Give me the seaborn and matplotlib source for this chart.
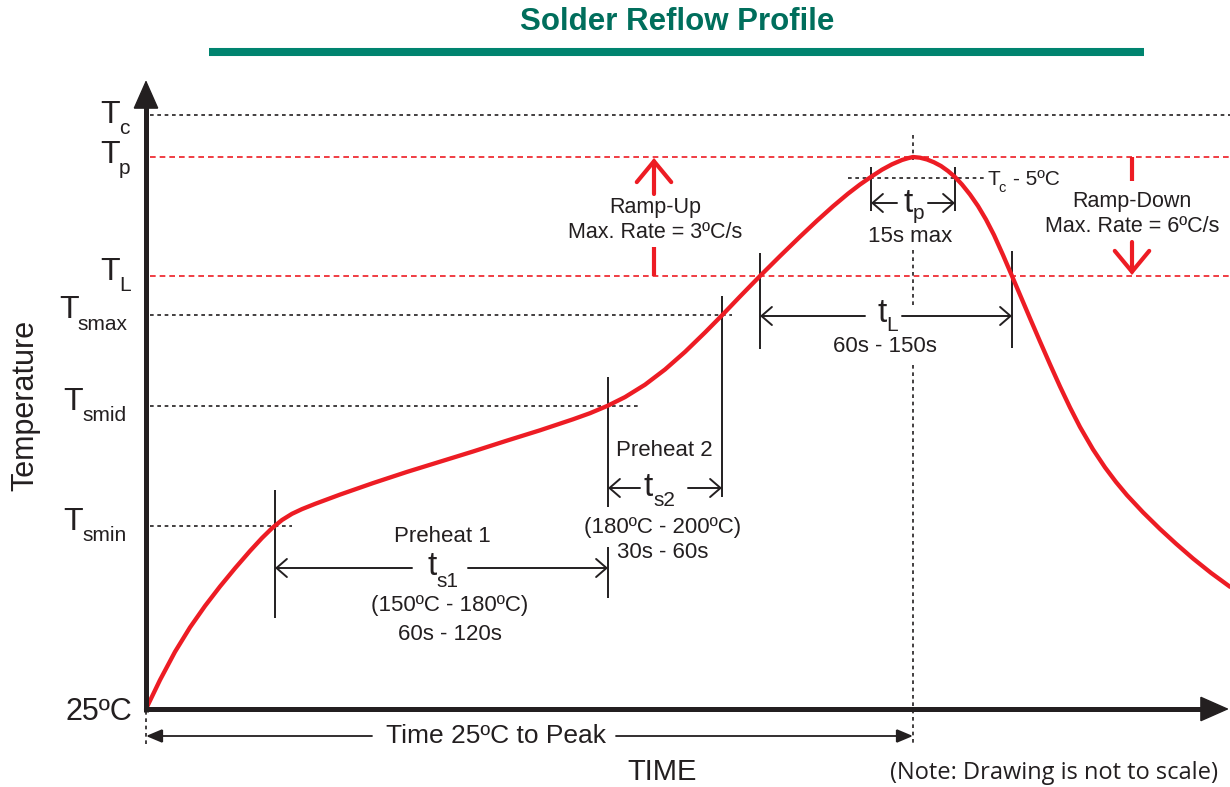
import matplotlib
matplotlib.use("Agg")
import matplotlib.pyplot as plt
import seaborn as sns
import pandas as pd

# ---------------- data (drawing units: time after start, temperature above 25ºC) -------------
level_names = ["25ºC", "smin", "smid", "smax", "L", "p", "c"]
level_temps = [0, 183, 303, 394, 433, 552, 594]

curve_time = [0, 14, 29, 44, 59, 74, 89, 104, 116, 126,
              136, 146, 156, 169, 194, 227, 261, 294, 327, 361,
              394, 427, 444, 462, 479, 499, 519, 539, 559, 576,
              594, 614, 634, 654, 671, 687, 702, 714, 726, 736,
              746, 756, 762, 767, 774, 781, 788, 795, 802, 809,
              816, 824, 832, 840, 848, 857, 866, 874, 884, 894,
              904, 914, 924, 934, 947, 959, 970, 981, 997, 1014,
              1030, 1047, 1065, 1084]
curve_temp = [0, 29, 57.2, 81.6, 103, 122.5, 140.7, 158, 171, 180.8,
              189, 195.2, 199.9, 205.1, 214.4, 225.9, 237.1, 247.3, 257.5, 268.4,
              278.7, 289.7, 295.8, 303.4, 311.9, 324.3, 339.5, 357.1, 376.5, 393.7,
              412.5, 433, 452.9, 472.3, 488.3, 502.7, 515.3, 524.5, 532.8, 539.3,
              544.7, 549, 550.8, 552, 551.3, 549.5, 546.7, 543, 538, 532,
              524.5, 514.5, 503, 489.5, 474, 454, 433, 414.2, 390.7, 367.5,
              344.7, 322.5, 301.5, 282, 259.6, 241.6, 227, 213.8, 196.7, 180,
              165.3, 150.5, 136.1, 122.2]

phase_names = ["s1", "s2", "L", "p"]
phase_start = [129, 462, 614, 725]
phase_end = [462, 576, 866, 809]
peak_time = 767
tc5_temp = 531

RED = "#ED1C24"
INK = "#231F20"
TEAL = "#00846F"
TITLE_C = "#006E5C"

sns.set_theme(style="white")
plt.rcParams["font.family"] = ["Liberation Sans", "DejaVu Sans"]

fig = plt.figure(figsize=(12.3, 7.87), dpi=100)
ax = fig.add_axes([0, 0, 1, 1])
X0, Y0 = 146, 709          # pixel position of the origin
ax.set_xlim(-X0, 1230 - X0)
ax.set_ylim(Y0 - 787, Y0)
ax.axis("off")


def X(px):
    return px - X0


def Y(py):
    return Y0 - py


def txt(px, py, s, size, ha="center", va="center", **kw):
    kw.setdefault("color", INK)
    ax.text(X(px), Y(py), s, fontsize=size, ha=ha, va=va, **kw)


def arrow(p0, p1, style, lw, color, ms, z=4):
    ax.annotate("", xy=(X(p1[0]), Y(p1[1])), xytext=(X(p0[0]), Y(p0[1])),
                arrowprops=dict(arrowstyle=style, lw=lw, color=color, shrinkA=0, shrinkB=0,
                                mutation_scale=ms, joinstyle="miter"), zorder=z)


black_dot = (0, (2.2, 2.2))
red_dot = (0, (3.4, 2.4))

# ---------------- level lines ----------------
level_xmax = {"25ºC": None, "smin": 292, "smid": 640, "smax": 732, "L": 1230, "p": 1230, "c": 1230}
for name, tv in zip(level_names, level_temps):
    xm = level_xmax[name]
    if xm is None:
        continue
    col = RED if name in ("L", "p") else INK
    ls = red_dot if name in ("L", "p") else black_dot
    ax.plot([X(150), X(xm)], [tv, tv], color=col, lw=1.2, ls=ls)

# T_c - 5ºC line
ax.plot([X(848), X(985)], [tc5_temp, tc5_temp], color=INK, lw=1.2, ls=black_dot)

# peak vertical dotted
for a, b in [(135, 160), (250, 305), (365, 745)]:
    ax.plot([peak_time, peak_time], [Y(a), Y(b)], color=INK, lw=1.2, ls=black_dot)
ax.plot([0, 0], [Y(711), Y(745)], color=INK, lw=1.2, ls=black_dot)

# ---------------- curve ----------------
df = pd.DataFrame({"time": curve_time, "temp": curve_temp})
sns.lineplot(data=df, x="time", y="temp", ax=ax, color=RED, lw=3.1, estimator=None,
             sort=False, solid_capstyle="round", solid_joinstyle="round", zorder=5)
ax.set_xlabel("")
ax.set_ylabel("")

# ---------------- axes with arrows ----------------
ax.plot([X(146), X(146)], [Y(711.5), Y(100)], color=INK, lw=3.6, solid_capstyle="butt", zorder=6)
ax.plot([X(143.5), X(1208)], [Y(709), Y(709)], color=INK, lw=3.6, solid_capstyle="butt", zorder=6)
arrow((146, 120), (146, 80), "-|>,head_length=0.95,head_width=0.42", 1.0, INK, 20, z=6)
arrow((1188, 709), (1229, 709), "-|>,head_length=0.95,head_width=0.42", 1.0, INK, 20, z=6)

# ---------------- phase boundary ticks ----------------
tick_spans = {
    "s1": [[(490, 618)], [(377, 507), (547, 598)]],
    "s2": [None, [(296, 497)]],
    "L": [[(253, 349)], [(251, 348)]],
    "p": [[(167, 211)], [(167, 211)]],
}
for name, t0, t1 in zip(phase_names, phase_start, phase_end):
    for tv, spans in zip((t0, t1), tick_spans[name]):
        if spans is None:
            continue
        for a, b in spans:
            ax.plot([tv, tv], [Y(a), Y(b)], color=INK, lw=1.4, solid_capstyle="butt")

# ---------------- dimension arrows ----------------
dim_y = {"s1": 568, "s2": 488, "L": 316, "p": 203}
dim_gap = {"s1": (412, 468), "s2": (640, 688), "L": (865, 902), "p": (897, 928)}
for name, t0, t1 in zip(phase_names, phase_start, phase_end):
    y = dim_y[name]
    g0, g1 = dim_gap[name]
    arrow((g0, y), (t0 + X0, y), "->,head_length=0.75,head_width=0.65", 1.4, INK, 10)
    arrow((g1, y), (t1 + X0, y), "->,head_length=0.75,head_width=0.65", 1.4, INK, 10)

# time 25ºC to peak
arrow((372, 736), (X0, 736), "-|>,head_length=1.0,head_width=0.42", 1.3, INK, 10)
arrow((616, 736), (peak_time + X0, 736), "-|>,head_length=1.0,head_width=0.42", 1.3, INK, 10)

# ---------------- ramp arrows ----------------
ax.plot([X(654), X(654)], [Y(276), Y(247)], color=RED, lw=3.0, solid_capstyle="butt")
arrow((654, 194), (654, 158), "->,head_length=0.75,head_width=0.62", 3.0, RED, 20)
ax.plot([X(1132), X(1132)], [Y(157), Y(181)], color=RED, lw=3.0, solid_capstyle="butt")
arrow((1132, 242), (1132, 275), "->,head_length=0.75,head_width=0.62", 3.0, RED, 20)

# ---------------- level labels ----------------
lvl_pos = {"c": (100, 123, 119, 134), "p": (100, 163, 119, 174), "L": (100, 280, 119, 291),
           "smax": (59, 318, 77, 330), "smid": (63, 410, 82, 421), "smin": (63, 530, 82, 541)}
for name in level_names:
    if name == "25ºC":
        txt(132, 720, name, 22, ha="right", va="baseline")
        continue
    tl, tb, sl, sb = lvl_pos[name]
    txt(tl, tb, "T", 23, ha="left", va="baseline")
    txt(sl, sb, name, 15, ha="left", va="baseline")

# ---------------- phase labels ----------------
t_pos = {"s1": (427, 575, 436, 587), "s2": (643, 496, 653, 506),
         "L": (877, 322, 886, 331), "p": (903, 212, 913, 219)}
for name in phase_names:
    tl, tb, sl, sb = t_pos[name]
    txt(tl, tb, "t", 24, ha="left", va="baseline")
    txt(sl, sb, name, 15, ha="left", va="baseline")

txt(442, 537, "Preheat 1", 16)
txt(450, 606, "(150ºC - 180ºC)", 16)
txt(450, 634, "60s - 120s", 16)
txt(664, 451, "Preheat 2", 16)
txt(663, 528, "(180ºC - 200ºC)", 16)
txt(663, 553, "30s - 60s", 16)
txt(655, 207, "Ramp-Up", 15.5)
txt(655, 232, "Max. Rate = 3ºC/s", 15.5)
txt(1132, 202, "Ramp-Down", 15.5)
txt(1132, 227, "Max. Rate = 6ºC/s", 15.5)
txt(910, 236, "15s max", 16)
txt(885, 347, "60s - 150s", 16)

txt(987, 185, "T", 15, ha="left", va="baseline")
txt(998, 192, "c", 10.5, ha="left", va="baseline")
txt(1013, 185, "- 5ºC", 15, ha="left", va="baseline")

txt(496, 736, "Time 25ºC to Peak", 19)
txt(662, 772, "TIME", 21)
txt(25, 405, "Temperature", 22, rotation=90)
txt(1054, 773, "(Note: Drawing is not to scale)", 17, family=["Open Sans", "DejaVu Sans"])

# ---------------- title ----------------
txt(677, 22, "Solder Reflow Profile", 22.5, fontweight="bold", color=TITLE_C)
ax.plot([X(209), X(1144)], [Y(51.5), Y(51.5)], color=TEAL, lw=5.8, solid_capstyle="butt")

fig.savefig("out.png", dpi=100)
